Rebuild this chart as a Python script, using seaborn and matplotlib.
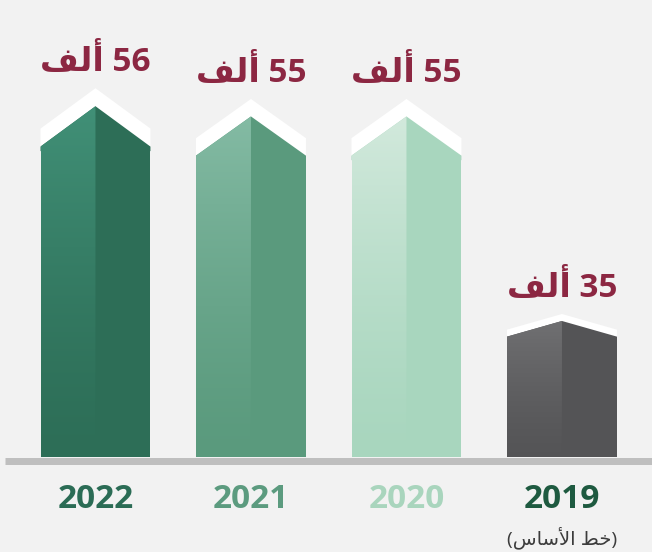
import numpy as np
import matplotlib
matplotlib.use("Agg")
import matplotlib.pyplot as plt
from matplotlib.colors import LinearSegmentedColormap
from matplotlib.patches import Polygon
import seaborn as sns


YEARS = ["2022", "2021", "2020", "2019"]
VALUES = [56, 55, 55, 35]  # thousands
ALF = "\uFED2\uFEDF\uFE83"  # "ألف" in presentation forms, visual order
BASELINE_NOTE = "(\uFEB1\uFE8E\uFEB3\uFEF7\uFE8D \uFEC2\uFEA7)"  # "(خط الأساس)"

SIDE_DARK = ["#2d6e57", "#5a9a7d", "#a8d6be", "#545456"]
SIDE_LIGHT = ["#419077", "#84bba4", "#d2e9dc", "#707072"]
YEAR_COLORS = ["#2b6c55", "#5c9b7f", "#a9d5bd", "#1e5a40"]
LABEL_COLOR = "#8c2742"
BG = "#f2f2f2"

FLOOR = 21.7          # value sitting on the baseline (axis is truncated)
PX_PER_UNIT = 9.05
ROOF = 0.13           # roof height as share of visible bar height
CAP = 0.058           # white cap thickness as share of visible bar height
PT = 0.72             # points per pixel at dpi 100


def main():
    sns.set_style("white")
    plt.rcParams["font.family"] = ["Open Sans", "DejaVu Sans"]

    fig = plt.figure(figsize=(6.52, 5.52), dpi=100, facecolor=BG)
    ax = fig.add_axes([0, 95 / 552, 1, 457 / 552])
    ax.set_facecolor(BG)

    sns.barplot(
        x=YEARS,
        y=VALUES,
        hue=YEARS,
        order=YEARS,
        hue_order=YEARS,
        palette=SIDE_DARK,
        width=0.707,
        saturation=1,
        linewidth=0,
        legend=False,
        ax=ax,
        zorder=3,
    )

    bars = sorted(ax.patches, key=lambda p: p.get_x())
    ramp = np.linspace(0, 1, 256).reshape(-1, 1) ** 1.4

    for bar, light, dark, value in zip(bars, SIDE_LIGHT, SIDE_DARK, VALUES):
        x0, w, top = bar.get_x(), bar.get_width(), bar.get_height()
        xc = x0 + w / 2
        body = top - FLOOR
        peak = top + ROOF * body
        cap = CAP * body
        overlap = 0.5

        ax.add_patch(Polygon(
            [(x0, top), (x0, top + cap), (xc, peak + cap),
             (x0 + w, top + cap), (x0 + w, top)],
            closed=True, fc="white", ec="none", zorder=2,
        ))
        # roof drawn a little into the body so no seam shows
        ax.add_patch(Polygon(
            [(x0, top - overlap), (x0, top), (xc, peak),
             (x0 + w, top), (x0 + w, top - overlap)],
            closed=True, fc=dark, ec="none", zorder=3,
        ))

        left = Polygon(
            [(x0, FLOOR - 1), (x0, top), (xc, peak), (xc, FLOOR - 1)],
            closed=True, fc="none", ec="none", zorder=4,
        )
        ax.add_patch(left)
        cmap = LinearSegmentedColormap.from_list("side", [dark, light])
        im = ax.imshow(
            ramp, extent=(x0, xc, FLOOR - 1, peak), origin="lower",
            cmap=cmap, aspect="auto", zorder=4, interpolation="bicubic",
        )
        im.set_clip_path(left)

        ax.annotate(
            f"{ALF} {value}",
            xy=(xc, peak + cap),
            xytext=(0, 26 * PT),
            textcoords="offset points",
            ha="center",
            va="center",
            fontsize=24,
            fontweight="bold",
            color=LABEL_COLOR,
        )

    for i, (year, color) in enumerate(zip(YEARS, YEAR_COLORS)):
        ax.annotate(
            year,
            xy=(i, 0),
            xycoords=("data", "axes fraction"),
            xytext=(0, -43 * PT),
            textcoords="offset points",
            ha="center",
            va="center",
            fontsize=24,
            fontweight="bold",
            color=color,
        )

    ax.annotate(
        BASELINE_NOTE,
        xy=(len(YEARS) - 1, 0),
        xycoords=("data", "axes fraction"),
        xytext=(0, -81 * PT),
        textcoords="offset points",
        ha="center",
        va="center",
        fontsize=14,
        color="#3c3c3c",
    )

    ax.axhline(
        FLOOR - 4 / PX_PER_UNIT,
        xmin=5 / 652,
        xmax=1,
        color="#bfbfbf",
        linewidth=7 * PT,
        solid_capstyle="butt",
        clip_on=False,
        zorder=5,
    )

    ax.set_xlim(-0.614, 3.579)
    ax.set_ylim(FLOOR, FLOOR + 457 / PX_PER_UNIT)
    ax.axis("off")

    fig.savefig("out.png", dpi=100, facecolor=BG)
    plt.close(fig)


if __name__ == "__main__":
    main()
